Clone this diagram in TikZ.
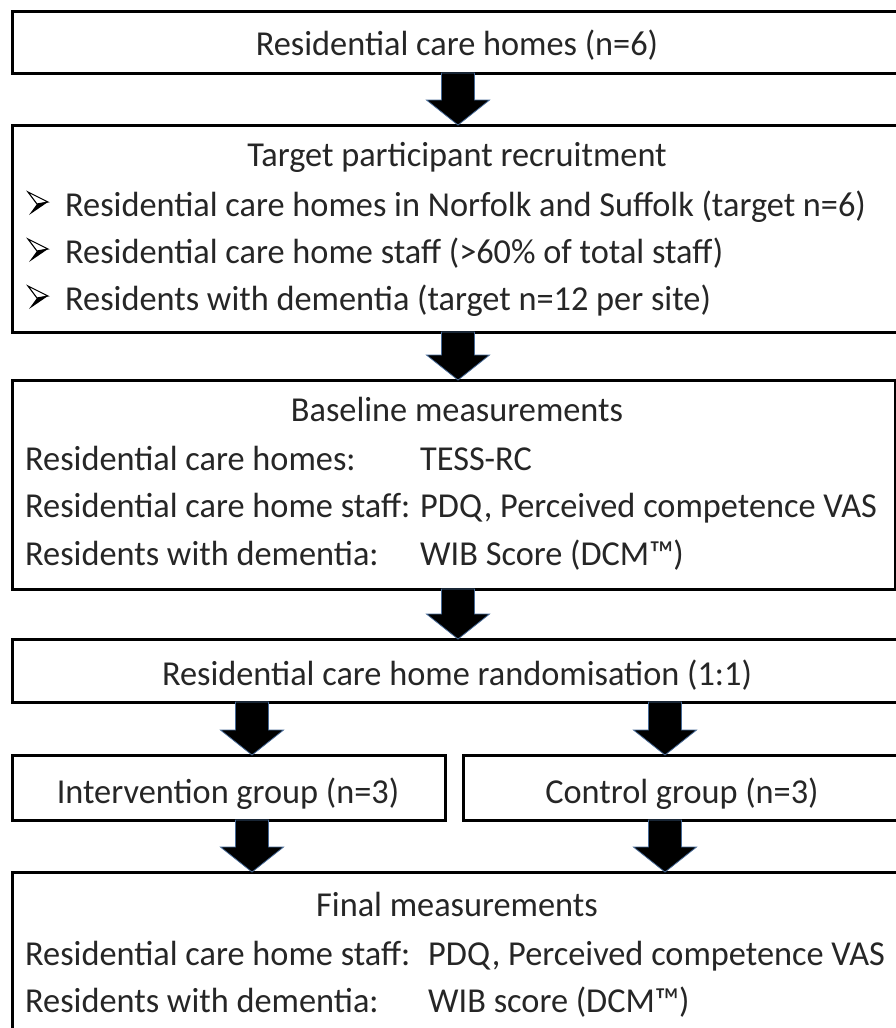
\documentclass[tikz,border=0pt]{standalone}
\usepackage{fontspec}
\setmainfont{Carlito}[FakeStretch=0.98]
\usetikzlibrary{calc}

\definecolor{arrowedge}{RGB}{70,105,150}

\tikzset{
  box/.style={draw=black, line width=3pt, fill=white, rectangle, inner sep=0pt, outer sep=0pt},
  txt/.style={font=\fontsize{35}{40}\selectfont, inner sep=0pt, anchor=base, text=black!85},
  ltxt/.style={txt, anchor=base west},
  barrow/.style={fill=black, draw=arrowedge, line width=0.8pt, line join=miter},
  bulletline/.style={draw=black, line width=1.1pt, line join=miter},
}

% block arrow at horizontal position #1 from the bottom of #2 to the top of #3
\newcommand\blockarrow[3]{%
  \path[barrow] let \p1=(#2.south), \p2=(#3.north) in
    ({#1pt-16.5pt},\y1) -- ({#1pt+16.5pt},\y1) -- ({#1pt+16.5pt},\y2+25pt)
    -- ({#1pt+31.5pt},\y2+25pt) -- (#1pt,\y2) -- ({#1pt-31.5pt},\y2+25pt)
    -- ({#1pt-16.5pt},\y2+25pt) -- cycle;}

% arrowhead bullet whose base line is at height #1
\newcommand\arrowbullet[1]{%
  \draw[bulletline] (28,#1-24) -- (48,#1-14) -- (37,#1-12) -- cycle;
  \fill[black] (37,#1-12) -- (48,#1-14) -- (29,#1-1) -- cycle;}

\begin{document}
\begin{tikzpicture}[x=1pt, y=-1pt]
  \useasboundingbox (0,0) rectangle (896,1028);
  \clip (0,0) rectangle (896,1028);

  % boxes
  \node[box, minimum width=890pt, minimum height=62pt]  (homes)    at (457,42)    {};
  \node[box, minimum width=890pt, minimum height=207pt] (recruit)  at (457,228.5) {};
  \node[box, minimum width=883pt, minimum height=209pt] (baseline) at (453.5,484.5) {};
  \node[box, minimum width=890pt, minimum height=63pt]  (random)   at (457,670.5) {};
  \node[box, minimum width=433pt, minimum height=65pt]  (interv)   at (228.5,787.5) {};
  \node[box, minimum width=439pt, minimum height=65pt]  (control)  at (682.5,787.5) {};
  \node[box, minimum width=890pt, minimum height=168pt] (final)    at (457,956)   {};

  % texts
  \node[txt] (homesT) at (457,55) {Residential care homes (n=6)};

  \node[txt] (recruitT) at (457,166) {Target participant recruitment};
  \arrowbullet{216}
  \node[ltxt] (r1) at (65,216) {Residential care homes in Norfolk and Suffolk (target n=6)};
  \arrowbullet{263}
  \node[ltxt] (r2) at (65,263) {Residential care home staff (>60\% of total staff)};
  \arrowbullet{310}
  \node[ltxt] (r3) at (65,310) {Residents with dementia (target n=12 per site)};

  \node[txt] (baseT) at (457,421) {Baseline measurements};
  \node[ltxt] (bl1) at (25,470) {Residential care homes:};
  \node[ltxt] (bv1) at (420,470) {TESS-RC};
  \node[ltxt] (bl2) at (25,517) {Residential care home staff:};
  \node[ltxt] (bv2) at (420,517) {PDQ, Perceived competence VAS};
  \node[ltxt] (bl3) at (25,565) {Residents with dementia:};
  \node[ltxt] (bv3) at (420,565) {WIB Score (DCM™)};

  \node[txt] (randomT) at (457,685) {Residential care home randomisation (1:1)};
  \node[txt] (intervT) at (228,803) {Intervention group (n=3)};
  \node[txt] (controlT) at (682,803) {Control group (n=3)};

  \node[txt] (finalT) at (457,916) {Final measurements};
  \node[ltxt] (fl1) at (25,965) {Residential care home staff:};
  \node[ltxt] (fv1) at (428,965) {PDQ, Perceived competence VAS};
  \node[ltxt] (fl2) at (25,1012) {Residents with dementia:};
  \node[ltxt] (fv2) at (428,1012) {WIB score (DCM™)};

  % connectors
  \blockarrow{458}{homes}{recruit}
  \blockarrow{458}{recruit}{baseline}
  \blockarrow{458}{baseline}{random}
  \blockarrow{252}{random}{interv}
  \blockarrow{665}{random}{control}
  \blockarrow{252}{interv}{final}
  \blockarrow{665}{control}{final}
\end{tikzpicture}
\end{document}
